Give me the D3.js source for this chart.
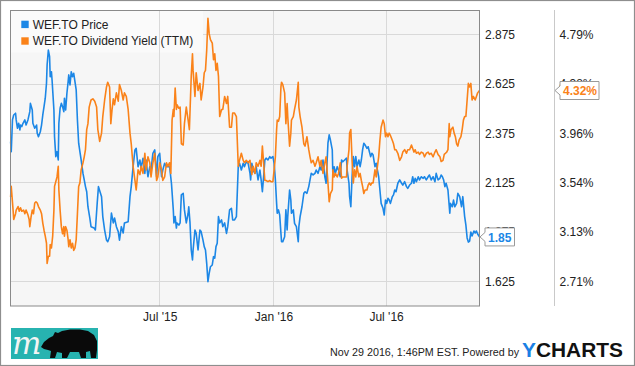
<!DOCTYPE html>
<html><head><meta charset="utf-8">
<script src="https://cdn.jsdelivr.net/npm/d3@7/dist/d3.min.js"></script>
<style>
body{margin:0;background:#fff}
svg{display:block;font-family:"Liberation Sans",Arial,sans-serif}
</style>
</head><body>
<svg id="chart" width="635" height="366"></svg>
<script>
// ---------------- data ----------------
const startDate = "2014-11-01";           // day 0 of the day-offset arrays
const endDate = "2016-11-29";
const seriesNames = ["WEF.TO Price", "WEF.TO Dividend Yield (TTM)"];
const xTickDates = ["2015-07-01", "2016-01-01", "2016-07-01"];
const xTickLabels = ["Jul '15", "Jan '16", "Jul '16"];
const priceTicks = [1.625, 1.875, 2.125, 2.375, 2.625, 2.875];
const priceTickLabels = ["1.625", "1.875", "2.125", "2.375", "2.625", "2.875"];
const yieldTicks = [2.7083, 3.125, 3.5417, 3.9583, 4.375, 4.7917];
const yieldTickLabels = ["2.71%", "3.13%", "3.54%", "3.96%", "4.38%", "4.79%"];
const lastPriceLabel = "1.85";
const lastYieldLabel = "4.32%";

// Price series: days since startDate, price (CAD)
const priceDays = [1,2,4,6,9,10,12,14,16,17,19,21,24,26,29,32,33,36,37,40,43,44,46,49,51,53,55,57,59,60,
62,64,65,67,68,71,72,74,76,78,79,81,83,85,87,88,90,92,94,95,97,99,101,103,105,107,109,111,113,115,
118,120,122,124,126,129,131,136,138,141,143,148,150,153,156,158,161,164,167,169,172,175,177,180,183,185,191,194,196,199,
202,204,207,210,212,215,218,220,223,226,228,231,234,237,239,242,245,247,250,253,255,258,261,264,265,267,269,270,273,275,
277,280,282,285,288,289,291,293,295,296,299,301,304,307,309,312,314,316,318,320,322,324,327,329,331,333,335,337,339,342,
344,347,350,352,355,358,360,363,366,369,371,374,377,379,382,385,388,389,391,393,396,398,401,404,406,408,410,412,414,417,
420,422,425,427,429,431,432,434,436,438,439,441,444,446,448,449,452,454,455,458,460,463,466,467,469,472,475,477,480,483,
485,487,490,493,495,498,501,503,506,509,511,514,516,518,521,522,524,526,529,531,534,536,538,541,544,545,548,549,551,553,
555,557,559,561,564,566,568,570,572,574,577,579,581,583,585,587,590,592,594,596,598,600,603,605,607,609,611,613,615,618,
620,622,624,627,630,633,635,638,641,643,646,649,651,653,655,657,660,662,665,668,670,673,676,678,681,684,687,689,692,695,
697,699,701,703,705,708,711,712,715,717,719,722,724,727,730,732,735,737,739,741,743,745,747,750,752,754,756,759];
const price = [2.333,2.282,2.443,2.468,2.477,2.443,2.401,2.426,2.392,2.417,2.409,2.426,2.443,2.417,2.443,2.485,2.527,2.493,2.426,2.401,
2.417,2.375,2.358,2.383,2.417,2.468,2.510,2.553,2.629,2.721,2.797,2.763,2.662,2.687,2.645,2.493,2.358,2.257,2.282,2.240,
2.426,2.502,2.527,2.510,2.485,2.553,2.493,2.578,2.637,2.671,2.620,2.687,2.662,2.679,2.637,2.595,2.443,2.325,2.282,2.240,
2.172,2.139,2.105,2.079,2.003,1.946,1.902,1.895,1.885,2.022,2.105,2.054,1.953,1.885,1.834,1.826,1.851,1.971,1.921,1.946,
1.902,1.877,1.834,1.902,1.870,1.921,1.927,2.054,2.105,2.206,2.291,2.299,2.206,2.240,2.198,2.249,2.172,2.240,2.155,2.206,
2.189,2.274,2.291,2.155,2.257,2.274,2.155,2.189,2.223,2.206,2.206,2.206,2.122,1.987,1.921,1.953,1.895,1.921,1.910,1.921,
2.063,2.071,1.987,1.921,1.970,2.003,1.921,1.784,1.733,1.784,1.885,1.868,1.784,1.885,1.877,1.834,1.801,1.784,1.716,1.623,
1.666,1.699,1.708,1.750,1.742,1.801,1.818,1.953,1.921,1.936,1.902,1.921,1.868,1.902,1.987,1.995,1.936,1.936,1.953,2.206,
2.223,2.189,2.223,2.206,2.231,2.223,2.172,2.139,2.223,2.189,2.172,2.206,2.139,2.189,2.139,2.079,2.155,2.240,2.249,2.240,
2.257,2.249,2.257,2.223,2.139,2.020,1.970,1.987,1.961,1.868,1.826,1.826,1.851,1.987,1.885,1.953,2.088,2.037,1.970,1.987,
1.919,1.902,1.826,1.902,1.953,2.003,2.071,2.079,2.071,2.105,2.139,2.172,2.164,2.172,2.189,2.172,2.206,2.189,2.240,2.155,
2.122,2.325,2.367,2.341,2.291,2.155,2.206,2.172,2.206,2.189,2.155,2.240,2.231,2.240,2.249,2.189,2.122,2.054,2.003,2.155,
2.257,2.206,2.257,2.206,2.240,2.206,2.240,2.291,2.325,2.316,2.299,2.307,2.282,2.257,2.274,2.265,2.206,2.223,2.189,2.155,
2.088,2.020,1.995,1.961,2.037,2.020,2.046,2.037,2.020,2.054,2.063,2.088,2.079,2.122,2.139,2.122,2.113,2.130,2.105,2.096,
2.113,2.122,2.155,2.122,2.147,2.130,2.155,2.139,2.155,2.147,2.155,2.139,2.155,2.164,2.139,2.155,2.130,2.172,2.139,2.147,
2.164,2.155,2.139,2.105,2.122,2.088,1.970,2.020,2.003,2.037,2.003,2.020,2.071,2.054,2.003,2.054,1.953,1.910,1.845,1.824,
1.829,1.875,1.855,1.880,1.870,1.880,1.865,1.850];

// Dividend yield (TTM) series: days since startDate, yield in %
const yieldDays = [1,2,5,6,9,10,13,15,17,19,22,24,26,29,31,32,34,36,38,40,42,44,46,49,51,53,55,57,59,60,
62,64,65,67,69,71,72,74,76,78,79,81,83,85,87,88,90,92,94,95,97,99,101,103,105,107,109,111,113,115,
118,120,122,124,126,128,131,134,137,140,142,145,148,150,153,156,158,161,163,165,167,169,172,175,177,180,183,185,188,191,
194,196,199,202,204,207,210,212,215,218,220,223,226,228,231,234,237,239,242,245,247,250,253,255,258,260,262,264,265,267,
269,270,273,275,277,280,282,285,288,290,293,295,296,299,301,304,307,309,312,314,316,318,320,322,324,327,329,331,333,335,
337,339,342,344,347,350,352,355,358,360,363,366,369,371,374,377,379,382,385,388,389,391,393,396,398,401,404,406,408,410,
412,414,417,420,422,425,427,429,431,432,434,436,438,439,441,444,446,448,449,452,454,455,458,460,463,466,467,469,472,475,
477,480,483,485,487,490,493,495,498,501,503,506,509,511,514,516,518,521,522,524,526,529,531,534,536,538,541,544,545,548,
549,551,553,555,557,559,561,564,566,568,570,572,574,577,579,581,583,585,587,590,592,594,596,598,600,603,605,607,609,611,
613,615,618,620,622,624,627,630,633,635,638,641,643,646,649,651,653,655,657,660,662,665,668,670,673,676,678,681,684,687,
689,692,695,697,700,702,704,706,708,710,711,713,716,718,720,722,724,726,729,731,733,735,737,739,741,743,745,747,749,752,
754,756,759];
const yieldPct = [3.42,3.51,3.31,3.23,3.28,3.31,3.34,3.30,3.33,3.30,3.31,3.28,3.31,3.27,3.23,3.17,3.25,3.31,3.28,3.37,
3.38,3.37,3.34,3.31,3.28,3.20,3.14,3.09,3.03,2.86,2.92,2.92,3.02,2.99,3.09,3.31,3.51,3.55,3.59,3.68,
3.48,3.31,3.17,3.11,3.17,3.09,3.17,3.14,3.06,3.00,3.06,2.99,3.03,2.97,2.99,3.06,3.28,3.51,3.54,3.65,
3.71,3.76,3.82,3.99,4.04,4.18,4.24,4.25,4.23,4.18,3.99,3.89,3.96,4.10,4.24,4.35,4.39,4.35,4.04,4.16,
4.25,4.20,4.30,4.23,4.37,4.32,4.24,4.30,4.27,4.16,3.96,3.87,3.68,3.56,3.48,3.65,3.61,3.68,3.62,3.79,
3.65,3.76,3.71,3.59,3.71,3.79,3.56,3.59,3.71,3.65,3.56,3.59,3.71,3.68,3.71,3.62,4.07,4.16,4.10,4.34,
4.16,4.20,4.17,4.18,3.87,3.86,4.04,4.18,4.07,3.99,4.44,4.63,4.49,4.27,4.47,4.32,4.38,4.24,4.35,4.47,
4.49,4.66,4.93,4.80,4.75,4.72,4.58,4.63,4.49,4.55,4.44,4.10,4.16,4.16,4.27,4.21,4.27,4.01,4.01,4.13,
4.13,4.10,3.68,3.73,3.79,3.73,3.71,3.73,3.71,3.73,3.68,3.61,3.68,3.62,3.71,3.68,3.73,3.68,3.85,3.71,
3.56,3.56,3.55,3.56,3.55,3.55,3.65,3.76,3.99,4.07,4.06,4.10,4.35,4.39,4.37,4.30,4.04,4.21,4.10,3.85,
3.96,4.07,4.10,4.16,4.24,4.39,4.18,4.10,4.01,3.87,3.85,3.93,3.82,3.76,3.71,3.73,3.68,3.71,3.76,3.68,
3.73,3.62,3.71,3.76,3.54,3.38,3.45,3.48,3.65,3.59,3.62,3.59,3.62,3.71,3.58,3.59,3.59,3.59,3.68,3.82,
3.96,3.99,3.73,3.54,3.65,3.59,3.68,3.59,3.62,3.56,3.51,3.45,3.48,3.48,3.52,3.54,3.52,3.54,3.54,3.65,
3.59,3.68,3.76,3.90,4.01,4.07,4.04,3.93,3.96,3.93,3.96,3.94,3.90,3.87,3.82,3.82,3.79,3.73,3.76,3.80,
3.82,3.79,3.82,3.82,3.86,3.83,3.80,3.82,3.79,3.80,3.78,3.80,3.79,3.76,3.79,3.80,3.78,3.79,3.76,3.80,
3.82,3.78,3.76,3.72,3.73,3.78,3.79,3.80,3.82,4.04,3.93,3.99,4.01,3.96,3.93,3.87,3.85,3.90,3.93,3.99,
4.07,4.10,4.10,4.24,4.38,4.35,4.38,4.24,4.27,4.24,4.27,4.30,4.32];

// ---------------- chart ----------------
const BLUE = "#1c87e6", ORANGE = "#fa8219";
const parse = d3.timeParse("%Y-%m-%d");
const t0 = parse(startDate);
const toSeries = (days, vals) => d3.range(Math.min(days.length, vals.length))
  .map(i => ({date: d3.timeDay.offset(t0, days[i]), v: vals[i]}));
const priceData = toSeries(priceDays, price);
const yieldData = toSeries(yieldDays, yieldPct);

const L = 10, R = 479.5, T = 10, B = 306;
const x = d3.scaleTime().domain([t0, parse(endDate)]).range([L, R]);
const yP = d3.scaleLinear().domain([1.5, 3.0]).range([B, T]);
const yY = d3.scaleLinear().domain([2.5, 5.0]).range([B, T]);

const svg = d3.select("#chart");
svg.append("rect").attr("x", 0).attr("y", 0).attr("width", 635).attr("height", 366).attr("fill", "#fff");
svg.append("rect").attr("x", 0.5).attr("y", 0.5).attr("width", 634).attr("height", 365)
  .attr("fill", "none").attr("stroke", "#8e8e8e").attr("stroke-width", 1.2);

// plot background
svg.append("rect").attr("x", L + 0.5).attr("y", T + 0.5).attr("width", R - L - 0.5).attr("height", B - T - 0.5)
  .attr("fill", "#f6f6f6");

// horizontal gridlines
svg.append("g").selectAll("line").data(priceTicks).join("line")
  .attr("x1", L).attr("x2", R).attr("y1", d => yP(d)).attr("y2", d => yP(d))
  .attr("stroke", "#d9d9d9").attr("stroke-width", 1).attr("shape-rendering", "crispEdges");

// legend background
svg.append("rect").attr("x", L + 0.5).attr("y", T + 0.5).attr("width", 192.5).attr("height", 42)
  .attr("fill", "#fafafa");

// vertical gridlines
svg.append("g").selectAll("line").data(xTickDates).join("line")
  .attr("x1", d => x(parse(d))).attr("x2", d => x(parse(d))).attr("y1", T).attr("y2", B)
  .attr("stroke", "#d9d9d9").attr("stroke-width", 1).attr("shape-rendering", "crispEdges");

// lines
const linePrice = d3.line().x(d => x(d.date)).y(d => yP(d.v));
const lineYield = d3.line().x(d => x(d.date)).y(d => yY(d.v));
svg.append("path").datum(priceData).attr("d", linePrice).attr("fill", "none")
  .attr("stroke", BLUE).attr("stroke-width", 1.6).attr("stroke-linejoin", "round");
svg.append("path").datum(yieldData).attr("d", lineYield).attr("fill", "none")
  .attr("stroke", ORANGE).attr("stroke-width", 1.6).attr("stroke-linejoin", "round");

// plot border
svg.append("rect").attr("x", L + 0.5).attr("y", T + 0.5).attr("width", R - L - 0.5).attr("height", B - T - 0.5)
  .attr("fill", "none").attr("stroke", "#8a8a8a").attr("stroke-width", 1);

// legend
const leg = svg.append("g");
[BLUE, ORANGE].forEach((c, i) => {
  leg.append("rect").attr("x", 21.3).attr("y", 20.7 + i * 16.6).attr("width", 7.4).attr("height", 7.4).attr("fill", c);
  leg.append("text").attr("x", 32.7).attr("y", 28.7 + i * 16.2).attr("font-size", 12).attr("fill", "#222")
    .text(seriesNames[i]);
});

// separator between the two right axes
svg.append("line").attr("x1", 554.5).attr("x2", 554.5).attr("y1", T).attr("y2", B)
  .attr("stroke", "#c9c9c9").attr("stroke-width", 1);

// right axes
function styleAxis(g) {
  g.select(".domain").remove();
  g.selectAll("text").attr("font-size", 12).attr("fill", "#222")
    .attr("font-family", "'Liberation Sans', Arial, sans-serif");
}
svg.append("g").attr("transform", `translate(${R},0)`)
  .call(d3.axisRight(yP).tickValues(priceTicks).tickFormat((d, i) => priceTickLabels[i]).tickSize(0).tickPadding(5.5))
  .call(styleAxis);
svg.append("g").attr("transform", "translate(554.5,0)")
  .call(d3.axisRight(yY).tickValues(yieldTicks).tickFormat((d, i) => yieldTickLabels[i]).tickSize(0).tickPadding(5))
  .call(styleAxis);

// bottom axis
svg.append("g").attr("transform", `translate(0,${B})`)
  .call(d3.axisBottom(x).tickValues(xTickDates.map(parse)).tickFormat((d, i) => xTickLabels[i]).tickSize(0).tickPadding(6.5))
  .call(styleAxis);

// last-value flags
function flag(tipX, cy, w, label, color) {
  const bx = tipX + 5;
  svg.append("path")
    .attr("d", `M${tipX},${cy} L${bx},${cy - 4.5} L${bx},${cy - 9} L${bx + w},${cy - 9} L${bx + w},${cy + 9} L${bx},${cy + 9} L${bx},${cy + 4.5} Z`)
    .attr("fill", "#fff").attr("stroke", "#9a9a9a").attr("stroke-width", 1);
  svg.append("text").attr("x", bx + 3).attr("y", cy + 4.6).attr("font-size", 12).attr("font-weight", "bold")
    .attr("fill", color).text(label);
}
flag(R + 0.5, yP(price[price.length - 1]), 29.5, lastPriceLabel, BLUE);
flag(555, yY(yieldPct[yieldPct.length - 1]), 39, lastYieldLabel, ORANGE);

// footer: logo
const logo = svg.append("g");
logo.append("rect").attr("x", 11).attr("y", 328).attr("width", 87).attr("height", 31).attr("fill", "#27b3b0");
logo.append("text").attr("x", 12).attr("y", 354).attr("font-family", "'DejaVu Serif', serif")
  .attr("font-style", "italic").attr("font-size", 31).attr("fill", "#f4f4f4").text("m");
logo.append("path")
  .attr("d", "M41,347 L44,342 L49,338 L53,336 L55,332 L58,333 L62,331 L70,329.5 L80,329.5 L88,331 L94,335 L97,341 L97,350 L96,358 L91,358 L90,351 L86,352 L86,358 L81,358 L79,352 L70,352 L67,358 L62,358 L62,353 L57,352 L55,358 L50,358 L51,351 L48,350 L44,349 Z")
  .attr("fill", "#0a0a0a");

// footer text
svg.append("text").attr("x", 330).attr("y", 356.3).attr("font-size", 11).attr("fill", "#222")
  .attr("textLength", 189).attr("lengthAdjust", "spacingAndGlyphs")
  .text("Nov 29 2016, 1:46PM EST.  Powered by");
const yc = svg.append("text").attr("x", 522).attr("y", 357).attr("font-size", 20).attr("font-weight", "bold")
  .attr("textLength", 101).attr("lengthAdjust", "spacingAndGlyphs");
yc.append("tspan").attr("fill", "#1a7fe4").text("Y");
yc.append("tspan").attr("fill", "#111").text("CHARTS");
</script>
</body></html>
